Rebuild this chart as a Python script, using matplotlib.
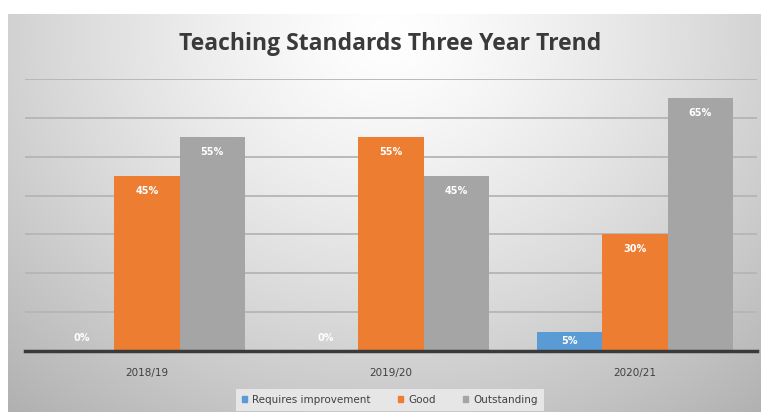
import numpy as np
import matplotlib
matplotlib.use("Agg")
import matplotlib.pyplot as plt
from matplotlib.patches import Patch

categories = ["2018/19", "2019/20", "2020/21"]
series_names = ["Requires improvement", "Good", "Outstanding"]
requires_improvement = [0, 0, 5]
good = [45, 55, 30]
outstanding = [55, 45, 65]
colors = ["#5b9bd5", "#ed7d31", "#a5a5a5"]
title = "Teaching Standards Three Year Trend"

W, H = 761, 412
fig = plt.figure(figsize=(W / 100, H / 100), dpi=100)
fig.patch.set_facecolor("white")

# gradient background panel
bg = fig.add_axes([0, 0, 1, 1])
bg.axis("off")
yy, xx = np.mgrid[0:H, 0:W]
d = np.sqrt(((xx - 385) / 500.0) ** 2 + ((yy - 20) / 440.0) ** 2)
val = 1.0 - 0.25 * np.clip(d, 0, 1.2) ** 1.3
img = np.dstack([val, val, val])
bg.imshow(img, extent=[8, W, H, 14], aspect="auto", zorder=0)
bg.set_xlim(0, W)
bg.set_ylim(H, 0)

left, right = 25 / W, 757 / W
bottom, top = (H - 351) / H, (H - 79) / H
ax = fig.add_axes([left, bottom, right - left, top - bottom])
ax.patch.set_alpha(0)

x = np.arange(len(categories))
bw = 0.267
data = [requires_improvement, good, outstanding]
for i, (vals, c) in enumerate(zip(data, colors)):
    pos = x + (i - 1) * bw
    ax.bar(pos, vals, width=bw, color=c, zorder=3)
    for p, v in zip(pos, vals):
        if v >= 10:
            ytxt = v - 3.8
        elif v > 0:
            ytxt = v - 2.3
        else:
            ytxt = 3.3
        ax.text(p, ytxt, f"{v}%", ha="center", va="center", color="white",
                fontsize=7, fontweight="bold", zorder=4)

ax.set_xlim(-0.5, 2.5)
ax.set_ylim(0, 70)
ax.set_yticks(np.arange(0, 71, 10))
ax.yaxis.grid(True, color="#b5b5b5", linewidth=1.3, zorder=0)
ax.tick_params(axis="y", left=False, labelleft=False)
ax.tick_params(axis="x", bottom=False, labelsize=7.5, colors="#404040", pad=9)
ax.set_xticks(x)
ax.set_xticklabels(categories)
for s in ["top", "right", "left"]:
    ax.spines[s].set_visible(False)
ax.spines["bottom"].set_color("#3a3a3a")
ax.spines["bottom"].set_linewidth(2.5)
ax.spines["bottom"].set_zorder(5)

fig.text(390 / W, 1 - 44 / H, title, ha="center", va="center",
         fontsize=16.5, fontweight="bold", color="#3a3a3a", family="Open Sans")

handles = [Patch(color=c, label=n) for c, n in zip(colors, series_names)]
leg = fig.legend(handles=handles, loc="center", bbox_to_anchor=(390 / W, 1 - 400 / H),
                 ncol=3, frameon=True, fontsize=7.5, handlelength=0.5, handleheight=0.5,
                 handletextpad=0.5, columnspacing=2.6, borderpad=0.55)
leg.get_frame().set_facecolor("#e6e6e6")
leg.get_frame().set_edgecolor("none")
leg.get_frame().set_alpha(1)
leg.get_frame().set_boxstyle("square", pad=0.0)
for t in leg.get_texts():
    t.set_color("#404040")

fig.savefig("out.png", dpi=100)
